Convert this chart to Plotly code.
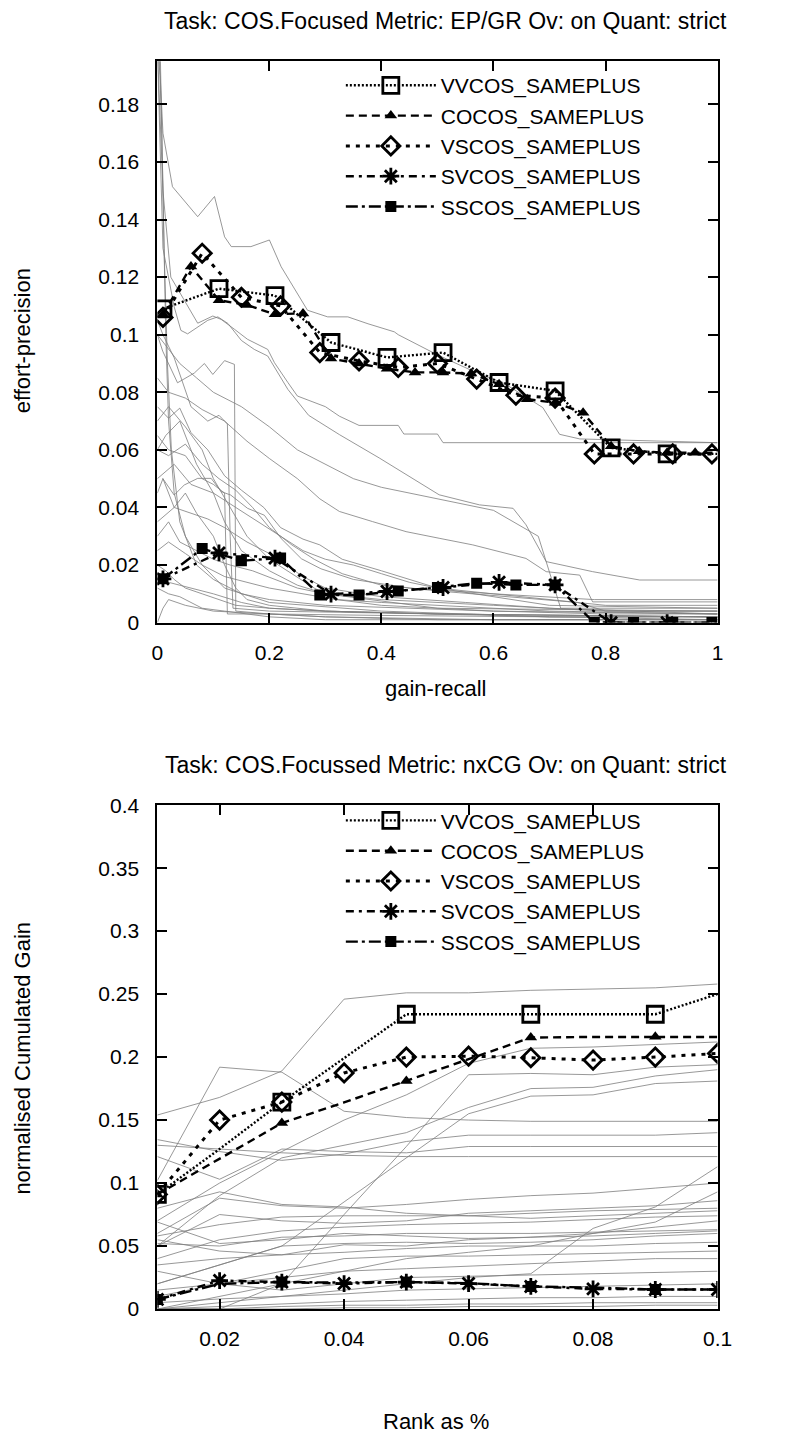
import plotly.graph_objects as go

W, H = 789, 1444
FONT = "Liberation Sans, Arial, Helvetica, sans-serif"

# ---------------- Top chart: EP/GR ----------------
ep_title = "Task: COS.Focused Metric: EP/GR Ov: on Quant: strict"
ep_xlabel = "gain-recall"
ep_ylabel = "effort-precision"
ep_xticks = [0, 0.2, 0.4, 0.6, 0.8, 1]
ep_yticks = [0, 0.02, 0.04, 0.06, 0.08, 0.1, 0.12, 0.14, 0.16, 0.18]

series_names = ["VVCOS_SAMEPLUS", "COCOS_SAMEPLUS", "VSCOS_SAMEPLUS",
                "SVCOS_SAMEPLUS", "SSCOS_SAMEPLUS"]

ep_vv_x = [0.01, 0.11, 0.21, 0.31, 0.41, 0.51, 0.61, 0.71, 0.81, 0.91, 1.0]
ep_vv_y = [0.109, 0.116, 0.1136, 0.0973, 0.0921, 0.0938, 0.0834, 0.0805, 0.0607, 0.0586, 0.0586]
ep_vv_marks = [0, 1, 2, 3, 4, 5, 6, 7, 8, 9]

ep_co_x = [0.01, 0.06, 0.11, 0.16, 0.21, 0.26, 0.31, 0.36, 0.41, 0.46, 0.51,
           0.56, 0.61, 0.66, 0.71, 0.76, 0.81, 0.86, 0.91, 0.96, 1.0]
ep_co_y = [0.107, 0.1237, 0.112, 0.1103, 0.1071, 0.1074, 0.0917, 0.09, 0.0882, 0.0869, 0.0869,
           0.0865, 0.0828, 0.0776, 0.0764, 0.0729, 0.0613, 0.0595, 0.059, 0.059, 0.059]
ep_co_marks = list(range(20))

ep_vs_x = [0.01, 0.08, 0.15, 0.22, 0.29, 0.36, 0.43, 0.50, 0.57, 0.64, 0.71, 0.78, 0.85, 0.92, 0.99]
ep_vs_y = [0.106, 0.1283, 0.113, 0.110, 0.0938, 0.0909, 0.0886, 0.090, 0.0846, 0.079, 0.078,
           0.0586, 0.0586, 0.0586, 0.0586]
ep_vs_marks = list(range(15))

ep_sv_x = [0.01, 0.11, 0.21, 0.31, 0.41, 0.51, 0.61, 0.71, 0.81, 0.91, 1.0]
ep_sv_y = [0.0152, 0.0242, 0.0224, 0.0099, 0.0108, 0.0122, 0.014, 0.0131, 0.0, 0.0, 0.0]
ep_sv_marks = list(range(10))

ep_ss_x = [0.01, 0.08, 0.15, 0.22, 0.29, 0.36, 0.43, 0.50, 0.57, 0.64, 0.71, 0.78, 0.85, 0.92, 0.99]
ep_ss_y = [0.0152, 0.0257, 0.0215, 0.0224, 0.0096, 0.0096, 0.011, 0.0122, 0.0137, 0.0131, 0.0131,
           0.0, 0.0, 0.0, 0.0]
ep_ss_marks = list(range(15))

# other runs (thin grey), each as [x values, y values]
ep_other_runs = [
    [[0, 0.005, 0.01, 0.027, 0.072, 0.102, 0.12, 0.132, 0.167, 0.2, 0.221, 0.257, 0.268, 0.304, 0.34,
      0.376, 0.423, 0.43, 0.5, 0.563, 0.62, 0.688, 0.718, 0.754, 1.0],
     [0.2, 0.19, 0.17, 0.1514, 0.141, 0.148, 0.134, 0.1306, 0.1306, 0.1329, 0.1236, 0.112, 0.1085,
      0.1062, 0.1062, 0.1038, 0.101, 0.1, 0.093, 0.0874, 0.083, 0.0747, 0.0654, 0.0638, 0.0625]],
    [[0, 0.01, 0.024, 0.054, 0.072, 0.099, 0.114, 0.1375, 0.161, 0.197, 0.209, 0.233, 0.25, 0.3,
      0.325, 0.36, 0.43, 0.44, 0.5, 0.51, 1.0],
     [0.2, 0.15, 0.12, 0.11, 0.104, 0.1065, 0.1053, 0.1019, 0.0984, 0.0949, 0.0903, 0.0834, 0.0787,
      0.075, 0.0717, 0.0685, 0.0685, 0.0655, 0.0655, 0.0625, 0.0625]],
    [[0, 0.01, 0.03, 0.042, 0.054, 0.09, 0.108, 0.126, 0.15, 0.173, 0.197, 0.233, 0.27, 0.325, 0.396,
      0.444, 0.503, 0.575, 0.635, 0.658, 0.694, 0.777, 0.861, 1.0],
     [0.2, 0.13, 0.1097, 0.1015, 0.1003, 0.105, 0.1062, 0.1039, 0.098, 0.0949, 0.0926, 0.081, 0.072,
      0.0653, 0.0572, 0.0514, 0.0444, 0.0409, 0.0397, 0.034, 0.0212, 0.0177, 0.0148, 0.0148]],
    [[0.003, 0.008, 0.012, 0.018, 0.025, 0.04, 0.07, 0.1, 0.15, 0.2, 0.3, 0.45, 0.6, 0.8, 1.0],
     [0.2, 0.17, 0.13, 0.09, 0.06, 0.035, 0.02, 0.015, 0.01, 0.008, 0.006, 0.005, 0.004, 0.003, 0.003]],
    [[0.005, 0.01, 0.015, 0.02, 0.03, 0.05, 0.08, 0.12, 0.2, 0.4, 0.7, 1.0],
     [0.2, 0.15, 0.1, 0.07, 0.045, 0.03, 0.02, 0.012, 0.007, 0.004, 0.002, 0.002]],
    [[0.0, 0.0095, 0.036, 0.066, 0.084, 0.099, 0.12, 0.1375, 0.14, 0.2, 0.4, 0.7, 1.0],
     [0.1, 0.0943, 0.0833, 0.0867, 0.09, 0.0862, 0.091, 0.0897, 0.004, 0.003, 0.0025, 0.002, 0.002]],
    [[0.0, 0.01, 0.03, 0.06, 0.09, 0.11, 0.125, 0.13, 0.135, 0.2, 0.5, 1.0],
     [0.105, 0.1, 0.092, 0.075, 0.07, 0.072, 0.069, 0.03, 0.005, 0.004, 0.003, 0.002]],
    [[0, 0.02, 0.05, 0.08, 0.1, 0.13, 0.16, 0.2, 0.24, 0.28, 0.32, 0.4, 0.6, 1.0],
     [0.07, 0.075, 0.068, 0.06, 0.05, 0.04, 0.03, 0.022, 0.017, 0.012, 0.008, 0.006, 0.004, 0.003]],
    [[0, 0.015, 0.04, 0.07, 0.1, 0.12, 0.15, 0.2, 0.25, 0.3, 0.5, 1.0],
     [0.06, 0.065, 0.07, 0.055, 0.045, 0.035, 0.025, 0.018, 0.013, 0.01, 0.005, 0.004]],
    [[0.0, 0.02, 0.04, 0.06, 0.09, 0.12, 0.15, 0.19, 0.22, 0.26, 0.29, 0.33, 0.4, 0.5, 0.7, 1.0],
     [0.075, 0.071, 0.0745, 0.066, 0.06, 0.051, 0.046, 0.04, 0.033, 0.029, 0.027, 0.022, 0.018,
      0.012, 0.006, 0.005]],
    [[0.0, 0.02, 0.05, 0.08, 0.12, 0.16, 0.2, 0.25, 0.29, 0.325, 0.384, 0.444, 0.503, 0.563, 0.658,
      0.694, 0.754, 0.777, 1.0],
     [0.085, 0.08, 0.078, 0.074, 0.07, 0.063, 0.057, 0.05, 0.043, 0.0386, 0.0351, 0.0316, 0.0293,
      0.027, 0.0223, 0.0177, 0.0165, 0.0072, 0.0072]],
    [[0.0, 0.03, 0.06, 0.1, 0.14, 0.18, 0.22, 0.26, 0.3, 0.35, 0.4, 0.45, 0.5, 0.6, 0.7, 0.8, 1.0],
     [0.05, 0.055, 0.048, 0.045, 0.04, 0.035, 0.03, 0.025, 0.022, 0.02, 0.017, 0.014, 0.012, 0.01,
      0.008, 0.006, 0.006]],
    [[0, 0.01, 0.03, 0.05, 0.07, 0.1, 0.12, 0.14, 0.16, 0.2, 0.3, 0.5, 1.0],
     [0.045, 0.05, 0.04, 0.045, 0.038, 0.03, 0.02, 0.012, 0.008, 0.006, 0.004, 0.003, 0.002]],
    [[0, 0.02, 0.04, 0.07, 0.1, 0.13, 0.17, 0.21, 0.25, 0.3, 0.4, 0.6, 0.8, 1.0],
     [0.03, 0.035, 0.028, 0.025, 0.022, 0.02, 0.018, 0.015, 0.012, 0.01, 0.008, 0.006, 0.004, 0.004]],
    [[0, 0.015, 0.03, 0.05, 0.08, 0.11, 0.14, 0.2, 0.3, 0.5, 0.7, 1.0],
     [0.02, 0.018, 0.015, 0.012, 0.01, 0.008, 0.006, 0.005, 0.004, 0.003, 0.002, 0.001]],
    [[0, 0.02, 0.04, 0.06, 0.08, 0.12, 0.16, 0.2, 0.3, 1.0],
     [0.012, 0.01, 0.009, 0.007, 0.005, 0.004, 0.003, 0.002, 0.001, 0.001]],
    [[0, 0.02, 0.05, 0.08, 0.1, 0.12, 0.125, 0.2, 0.3, 0.6, 1.0],
     [0.065, 0.06, 0.058, 0.05, 0.048, 0.045, 0.003, 0.003, 0.002, 0.001, 0.001]],
    [[0.0095, 0.03, 0.048, 0.072, 0.096, 0.114, 0.131, 0.161, 0.191, 0.221, 0.257, 0.292, 0.35,
      0.45, 0.6, 0.78, 1.0],
     [0.0501, 0.0443, 0.0478, 0.0501, 0.0501, 0.0455, 0.0443, 0.0397, 0.0373, 0.0292, 0.0222,
      0.0187, 0.015, 0.012, 0.01, 0.008, 0.008]],
    [[0, 0.02, 0.05, 0.08, 0.11, 0.14, 0.17, 0.2, 0.24, 0.28, 0.33, 0.4, 0.5, 0.62, 0.75, 0.8, 1.0],
     [0.06, 0.058, 0.062, 0.055, 0.05, 0.046, 0.04, 0.033, 0.027, 0.022, 0.017, 0.013, 0.011,
      0.009, 0.007, 0.004, 0.004]],
    [[0, 0.01, 0.02, 0.05, 0.1, 0.2, 0.3, 0.5, 1.0],
     [0.0, 0.005, 0.008, 0.006, 0.004, 0.003, 0.002, 0.001, 0.001]],
    [[0, 0.02, 0.04, 0.07, 0.1, 0.15, 0.2, 0.25, 0.3, 0.35, 0.4, 0.5, 0.6, 0.68, 0.72, 1.0],
     [0.1, 0.095, 0.09, 0.085, 0.08, 0.075, 0.068, 0.06, 0.055, 0.05, 0.047, 0.043, 0.039, 0.03,
      0.005, 0.005]],
    [[0, 0.03, 0.06, 0.09, 0.12, 0.16, 0.2, 0.23, 0.26, 0.3, 0.4, 0.55, 0.7, 0.85, 1.0],
     [0.035, 0.04, 0.038, 0.036, 0.033, 0.028, 0.024, 0.02, 0.016, 0.012, 0.009, 0.007, 0.005,
      0.004, 0.003]],
    [[0, 0.02, 0.05, 0.08, 0.12, 0.16, 0.2, 0.26, 0.32, 0.4, 0.5, 0.7, 1.0],
     [0.025, 0.028, 0.024, 0.02, 0.016, 0.014, 0.012, 0.01, 0.008, 0.007, 0.006, 0.004, 0.003]],
    [[0, 0.02, 0.04, 0.06, 0.1, 0.15, 0.2, 0.3, 0.5, 1.0],
     [0.016, 0.014, 0.013, 0.012, 0.01, 0.007, 0.005, 0.004, 0.003, 0.002]],
]

# ---------------- Bottom chart: nxCG ----------------
cg_title = "Task: COS.Focussed Metric: nxCG Ov: on Quant: strict"
cg_xlabel = "Rank as %"
cg_ylabel = "normalised Cumulated Gain"
cg_xticks = [0.02, 0.04, 0.06, 0.08, 0.1]
cg_yticks = [0, 0.05, 0.1, 0.15, 0.2, 0.25, 0.3, 0.35, 0.4]

cg_x = [0.01, 0.02, 0.03, 0.04, 0.05, 0.06, 0.07, 0.08, 0.09, 0.1]
cg_vv_y = [0.091, 0.127, 0.1643, 0.199, 0.234, 0.234, 0.234, 0.234, 0.234, 0.25]
cg_co_y = [0.091, 0.119, 0.1476, 0.164, 0.181, 0.198, 0.2155, 0.216, 0.2162, 0.216]
cg_vs_y = [0.091, 0.15, 0.1643, 0.1874, 0.2, 0.2007, 0.1995, 0.1976, 0.2, 0.2029]
cg_sv_y = [0.0076, 0.0226, 0.0214, 0.0202, 0.0214, 0.0202, 0.0179, 0.016, 0.0155, 0.0155]
cg_ss_y = [0.0076, 0.02, 0.0214, 0.021, 0.0214, 0.0205, 0.0179, 0.017, 0.0155, 0.0155]
cg_vv_marks = [0, 2, 4, 6, 8]
cg_co_marks = [0, 2, 4, 6, 8]
cg_vs_marks = list(range(10))
cg_sv_marks = list(range(10))
cg_ss_marks = [0, 2, 4, 6, 8]

cg_other_runs = [
    [0.154, 0.168, 0.189, 0.246, 0.251, 0.251, 0.253, 0.254, 0.255, 0.258],
    [0.102, 0.192, 0.188, 0.157, 0.152, 0.150, 0.149, 0.149, 0.149, 0.149],
    [0.1345, 0.125, 0.118, 0.123, 0.133, 0.138, 0.138, 0.138, 0.138, 0.140],
    [0.121, 0.103, 0.127, 0.125, 0.124, 0.129, 0.129, 0.129, 0.129, 0.129],
    [0.0, 0.0, 0.02, 0.075, 0.129, 0.186, 0.187, 0.186, 0.192, 0.194],
    [0.02, 0.035, 0.05, 0.085, 0.12, 0.155, 0.169, 0.170, 0.179, 0.181],
    [0.07, 0.10, 0.125, 0.15, 0.17, 0.195, 0.207, 0.208, 0.21, 0.212],
    [0.05, 0.09, 0.12, 0.13, 0.14, 0.16, 0.175, 0.176, 0.185, 0.19],
    [0.13, 0.127, 0.124, 0.122, 0.121, 0.121, 0.121, 0.121, 0.121, 0.121],
    [0.0, 0.005, 0.01, 0.015, 0.02, 0.025, 0.028, 0.064, 0.081, 0.113],
    [0.06, 0.088, 0.082, 0.08, 0.083, 0.087, 0.09, 0.092, 0.096, 0.1],
    [0.0, 0.01, 0.02, 0.03, 0.04, 0.045, 0.05, 0.06, 0.069, 0.093],
    [0.05, 0.075, 0.07, 0.068, 0.07, 0.076, 0.078, 0.08, 0.082, 0.086],
    [0.058, 0.067, 0.073, 0.074, 0.074, 0.074, 0.076, 0.078, 0.079, 0.080],
    [0.04, 0.055, 0.062, 0.065, 0.067, 0.068, 0.069, 0.071, 0.073, 0.074],
    [0.055, 0.046, 0.043, 0.051, 0.05, 0.055, 0.057, 0.06, 0.065, 0.07],
    [0.052, 0.05, 0.057, 0.058, 0.06, 0.06, 0.06, 0.061, 0.062, 0.063],
    [0.02, 0.035, 0.05, 0.052, 0.053, 0.052, 0.053, 0.055, 0.058, 0.06],
    [0.035, 0.04, 0.043, 0.045, 0.048, 0.05, 0.05, 0.05, 0.052, 0.053],
    [0.01, 0.02, 0.03, 0.04, 0.042, 0.042, 0.043, 0.044, 0.045, 0.046],
    [0.015, 0.02, 0.025, 0.03, 0.032, 0.034, 0.036, 0.038, 0.04, 0.04],
    [0.03, 0.02, 0.015, 0.02, 0.025, 0.026, 0.027, 0.028, 0.029, 0.03],
    [0.005, 0.008, 0.01, 0.012, 0.015, 0.016, 0.017, 0.018, 0.019, 0.02],
    [0.0, 0.002, 0.004, 0.006, 0.007, 0.008, 0.009, 0.009, 0.01, 0.01],
    [0.0, 0.0, 0.002, 0.003, 0.003, 0.004, 0.004, 0.005, 0.005, 0.005],
    [0.069, 0.052, 0.055, 0.06, 0.058, 0.056, 0.057, 0.058, 0.06, 0.062],
    [0.08, 0.093, 0.083, 0.081, 0.076, 0.074, 0.072, 0.074, 0.076, 0.078],
    [0.0, 0.0, 0.0, 0.001, 0.001, 0.002, 0.002, 0.002, 0.003, 0.003],
]

# ---------------- styles ----------------
GREY = "rgb(125,125,125)"
styles = [
    dict(dash="2px,2px", width=2.4, symbol="square-open", size=16, mlw=2.8),
    dict(dash="8px,5px", width=2.4, symbol="triangle-up", size=11, mlw=0),
    dict(dash="4px,6px", width=3.0, symbol="diamond-open", size=14, mlw=2.8),
    dict(dash="8px,5px,3px,5px", width=2.4, symbol="asterisk-open", size=14, mlw=2.8),
    dict(dash="12px,4px,3px,4px", width=2.4, symbol="square", size=11, mlw=0),
]


def px_x(p):
    return p / W


def px_y(p):
    return 1 - p / H


fig = go.Figure()

for rx, ry in ep_other_runs:
    fig.add_trace(go.Scatter(x=rx, y=ry, mode="lines", xaxis="x", yaxis="y",
                             line=dict(color=GREY, width=0.8), showlegend=False,
                             hoverinfo="skip"))
for ry in cg_other_runs:
    fig.add_trace(go.Scatter(x=cg_x, y=ry, mode="lines", xaxis="x2", yaxis="y2",
                             line=dict(color=GREY, width=0.8), showlegend=False,
                             hoverinfo="skip"))

ep_series = [(ep_vv_x, ep_vv_y, ep_vv_marks), (ep_co_x, ep_co_y, ep_co_marks),
             (ep_vs_x, ep_vs_y, ep_vs_marks), (ep_sv_x, ep_sv_y, ep_sv_marks),
             (ep_ss_x, ep_ss_y, ep_ss_marks)]
cg_series = [(cg_x, cg_vv_y, cg_vv_marks), (cg_x, cg_co_y, cg_co_marks),
             (cg_x, cg_vs_y, cg_vs_marks), (cg_x, cg_sv_y, cg_sv_marks),
             (cg_x, cg_ss_y, cg_ss_marks)]


def add_series(sx, sy, marks, name, st, xa, ya, legend):
    fig.add_trace(go.Scatter(
        x=sx, y=sy, mode="lines+markers", name=name, xaxis=xa, yaxis=ya,
        legend=legend,
        line=dict(color="black", width=st["width"], dash=st["dash"]),
        marker=dict(symbol=st["symbol"], size=st["size"], color="black",
                    line=dict(color="black", width=st["mlw"])),
        selectedpoints=marks,
        selected=dict(marker=dict(opacity=1)),
        unselected=dict(marker=dict(opacity=0)),
    ))


for (sx, sy, mk), nm, st in zip(ep_series, series_names, styles):
    add_series(sx, sy, mk, nm, st, "x", "y", "legend")
for (sx, sy, mk), nm, st in zip(cg_series, series_names, styles):
    add_series(sx, sy, mk, nm, st, "x2", "y2", "legend2")

axis_common = dict(showline=True, linewidth=2, linecolor="black", mirror="allticks",
                   ticks="inside", ticklen=10, tickwidth=1.5, tickcolor="black",
                   showgrid=False, zeroline=False,
                   tickfont=dict(family=FONT, size=21, color="black"))

xdom = [px_x(155.5), px_x(731)]
legend_common = dict(xanchor="left", yanchor="top", bgcolor="rgba(0,0,0,0)",
                     itemwidth=90, tracegroupgap=0,
                     font=dict(family=FONT, size=21, color="black"))
fig.update_layout(
    width=W, height=H, autosize=False,
    margin=dict(l=0, r=0, t=0, b=0),
    paper_bgcolor="white", plot_bgcolor="white",
    font=dict(family=FONT, size=21, color="black"),
    xaxis=dict(domain=xdom, range=[0, 1], tickvals=ep_xticks, anchor="y",
               ticklabelstandoff=10, **axis_common),
    yaxis=dict(domain=[px_y(620.5), px_y(50)], range=[0, 0.195], tickvals=ep_yticks,
               anchor="x", ticklabelstandoff=12, **axis_common),
    xaxis2=dict(domain=xdom, range=[0.01, 0.1], tickvals=cg_xticks, anchor="y2",
                ticklabelstandoff=10, **axis_common),
    yaxis2=dict(domain=[px_y(1318), px_y(806)], range=[0, 0.4], tickvals=cg_yticks,
                anchor="x2", ticklabelstandoff=12, **axis_common),
    legend=dict(x=px_x(344), y=px_y(54), **legend_common),
    legend2=dict(x=px_x(344), y=px_y(801), **legend_common),
)

annots = [
    (ep_title, 452, 9, 0, 23), (ep_xlabel, 442, 687, 0, 22), (ep_ylabel, 17, 334, -90, 22),
    (cg_title, 452, 765, 0, 23), (cg_xlabel, 442, 1432, 0, 22), (cg_ylabel, 17, 1063, -90, 22),
]
for txt, ax_, ay_, ang, fs in annots:
    fig.add_annotation(text=txt, x=px_x(ax_), y=px_y(ay_), xref="paper", yref="paper",
                       showarrow=False, textangle=ang, xanchor="center", yanchor="middle",
                       font=dict(family=FONT, size=fs, color="black"))

page_js = (
    "document.documentElement.style.margin='0';document.documentElement.style.padding='0';"
    "document.body.style.margin='0';document.body.style.padding='0';"
    "document.documentElement.style.overflow='hidden';document.body.style.overflow='hidden';"
    "var gd=document.getElementById('{plot_id}');"
    "gd.style.position='absolute';gd.style.left='0px';gd.style.top='0px';"
)
fig.write_html("out.html", config={"displayModeBar": False}, post_script=page_js)
